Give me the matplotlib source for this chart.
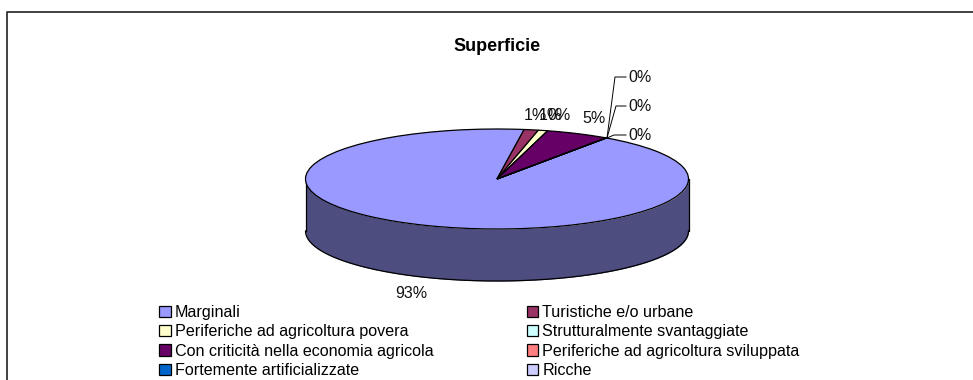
import matplotlib
matplotlib.use('Agg')
import numpy as np
import matplotlib.pyplot as plt

plt.rcParams['font.family'] = ['Liberation Sans', 'DejaVu Sans']

# -----------------------------
# DATA
# -----------------------------
categories = ["Marginali", "Turistiche e/o urbane", "Periferiche ad agricoltura povera",
              "Strutturalmente svantaggiate", "Con criticità nella economia agricola",
              "Periferiche ad agricoltura sviluppata", "Fortemente artificializzate", "Ricche"]
values = [92.6, 1.2, 0.8, 0.0, 5.4, 0.0, 0.0, 0.0]
colors = ["#9999FF", "#993366", "#FFFFCC", "#CCFFFF", "#660066", "#FF8080", "#0066CC", "#CCCCFF"]
side_color = "#4D4D80"
title = "Superficie"

# -----------------------------
# PIXEL LAYOUT
# -----------------------------
W, H = 973, 380
cx, cy = 497, 179
rx, ry = 191.5, 50
depth_px = 52
start_from_north = 34.8


def px(x, y):
    return (x - cx) / rx, (cy - y) / ry


fig = plt.figure(figsize=(W / 100, H / 100), dpi=100)
ax = fig.add_axes([0, 0, 1, 1])

# side of the disc, drawn under the top face
t = np.linspace(np.pi, 2 * np.pi, 200)
depth = depth_px / ry
ax.fill_between(np.cos(t), np.sin(t), np.sin(t) - depth, color=side_color, lw=0, zorder=1)
ax.plot(np.cos(t), np.sin(t) - depth, color="black", lw=0.9, zorder=2)
ax.plot([-1, -1], [0, -depth], color="black", lw=0.9, zorder=2)
ax.plot([1, 1], [0, -depth], color="black", lw=0.9, zorder=2)

wedges, _ = ax.pie(values, colors=colors, startangle=90 - start_from_north, counterclock=False,
                   radius=1, wedgeprops=dict(edgecolor="black", linewidth=0.9, zorder=3))
ax.set_aspect('auto')
ax.set_xlim((0 - cx) / rx, (W - cx) / rx)
ax.set_ylim((cy - H) / ry, cy / ry)
ax.axis('off')

# chart frame: only top and left edge are in the picture
fx, fy = zip(*[px(6.5, 380), px(6.5, 11.5), px(973, 11.5)])
ax.plot(fx, fy, color="#333333", lw=1.3, zorder=5)

ax.text(*px(497.5, 46), title, fontsize=13, fontweight='bold', ha='center', va='center')


def pct(v):
    return "%d%%" % round(v)


# labels, placed by hand like the original
label_pos = {0: (411, 293), 1: (535, 115), 2: (550, 115), 3: (559, 115), 4: (593.5, 118),
             5: (640, 135), 6: (640, 106), 7: (640, 77)}
for i, (lx, ly) in label_pos.items():
    ax.text(*px(lx, ly), pct(values[i]), fontsize=11.5, color="#111111", ha='center', va='center', zorder=6)

# leader lines of the zero slices
tip = (607, 138)
for (lx, ly), (kx, ky) in zip([(626, 135), (626, 106), (626, 77)],
                              [(614, 135), (616, 106), (615, 77)]):
    xs, ys = zip(*[px(*tip), px(kx, ky), px(lx, ly)])
    ax.plot(xs, ys, color="black", lw=0.7, zorder=6)

# legend, filled row by row like the original
order = [0, 2, 4, 6, 1, 3, 5, 7]
leg = ax.legend([wedges[i] for i in order], [categories[i] for i in order], ncols=2,
                loc='upper left', bbox_to_anchor=(159 / W, 1 - 305 / H), bbox_transform=ax.transAxes,
                frameon=False, fontsize=11.6, handlelength=0.72, handleheight=0.72, handletextpad=0.25,
                labelspacing=0.27, columnspacing=5.8, borderpad=0, borderaxespad=0)

fig.savefig("out.png", dpi=100, facecolor="white")
